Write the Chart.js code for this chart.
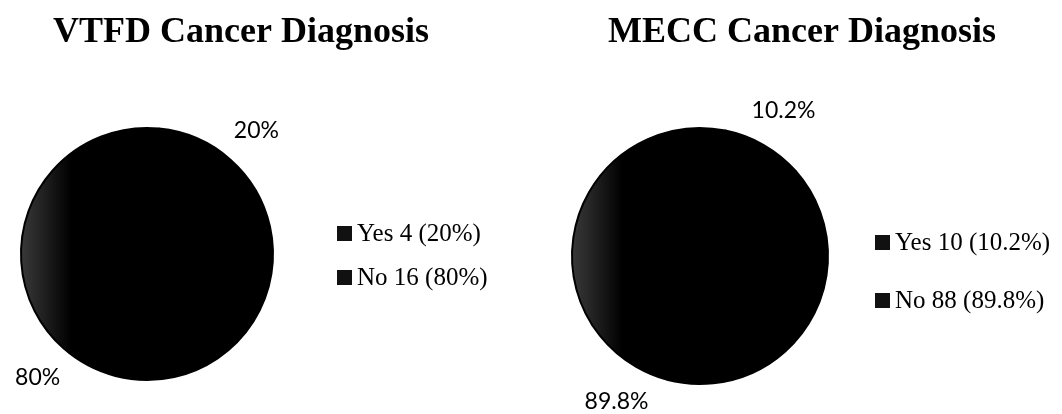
<!DOCTYPE html>
<html>
<head>
<meta charset="utf-8">
<script src="https://cdn.jsdelivr.net/npm/chart.js@4.4.1/dist/chart.umd.min.js"></script>
<style>
  body { margin: 0; background: #fff; }
  #wrap { position: relative; width: 1062px; height: 414px; }
  canvas { position: absolute; top: 0; }
</style>
</head>
<body>
<div id="wrap">
  <canvas id="vtfdChart" width="531" height="414" style="left:0"></canvas>
  <canvas id="meccChart" width="531" height="414" style="left:531px"></canvas>
</div>
<script>
// ============================== DATA ==============================
const categories = ['Yes', 'No'];
const vtfdCounts = [4, 16];
const vtfdPercent = ['20%', '80%'];
const meccCounts = [10, 88];
const meccPercent = ['10.2%', '89.8%'];

// ============================== Helpers ==============================
function sliceFill(context) {
    const area = context.chart.chartArea;
    if (!area) return '#000';
    const g = context.chart.ctx.createLinearGradient(area.left, 0, area.right, 0);
    g.addColorStop(0, '#3a3a3a');
    g.addColorStop(0.1, '#1e1e1e');
    g.addColorStop(0.2, '#000');
    g.addColorStop(1, '#000');
    return g;
}

// draws title, outside % labels and the legend
function decorPlugin(cfg) {
    return {
        id: 'decor',
        afterDatasetsDraw(chart) {
            const ctx = chart.ctx;
            ctx.save();
            // title
            ctx.fillStyle = '#000';
            ctx.font = 'bold 36px "Liberation Serif", serif';
            ctx.textAlign = 'center';
            ctx.textBaseline = 'alphabetic';
            ctx.fillText(cfg.title, cfg.titleX, 42);

            // percent labels outside the slices
            ctx.font = '23px Lato, sans-serif';
            ctx.textBaseline = 'middle';
            chart.getDatasetMeta(0).data.forEach((arc, i) => {
                const p = arc.getProps(['x', 'y', 'startAngle', 'endAngle', 'outerRadius'], true);
                const mid = (p.startAngle + p.endAngle) / 2;
                const d = p.outerRadius * 1.31;
                ctx.fillText(cfg.percents[i], p.x + Math.cos(mid) * d, p.y + Math.sin(mid) * d);
            });

            // legend
            ctx.font = '25px "Liberation Serif", serif';
            ctx.textAlign = 'left';
            categories.forEach((cat, i) => {
                const y = cfg.legendY[i];
                ctx.fillStyle = '#111';
                ctx.fillRect(cfg.legendX, y - 7, 15, 15);
                ctx.fillStyle = '#000';
                ctx.fillText(cat + ' ' + cfg.counts[i] + ' (' + cfg.percents[i] + ')', cfg.legendX + 20, y + 1);
            });
            ctx.restore();
        }
    };
}

function createPie(id, counts, padding, rotation, cfg) {
    return new Chart(document.getElementById(id), {
        type: 'pie',
        data: {
            labels: categories,
            datasets: [{ data: counts, backgroundColor: sliceFill, borderColor: '#000', borderWidth: 2 }]
        },
        options: {
            responsive: false,
            animation: false,
            rotation: rotation,
            layout: { padding: padding },
            plugins: { legend: { display: false }, title: { display: false }, tooltip: { enabled: false } }
        },
        plugins: [decorPlugin(cfg)]
    });
}

// ============================== Charts ==============================
createPie('vtfdChart', vtfdCounts, { left: 20, right: 257, top: 127, bottom: 33 }, 5.5, {
    title: 'VTFD Cancer Diagnosis', titleX: 241, counts: vtfdCounts, percents: vtfdPercent,
    legendX: 337, legendY: [233, 277]
});
createPie('meccChart', meccCounts, { left: 40, right: 233, top: 127, bottom: 29 }, 11.5, {
    title: 'MECC Cancer Diagnosis', titleX: 271, counts: meccCounts, percents: meccPercent,
    legendX: 344, legendY: [242, 300]
});
</script>
</body>
</html>
